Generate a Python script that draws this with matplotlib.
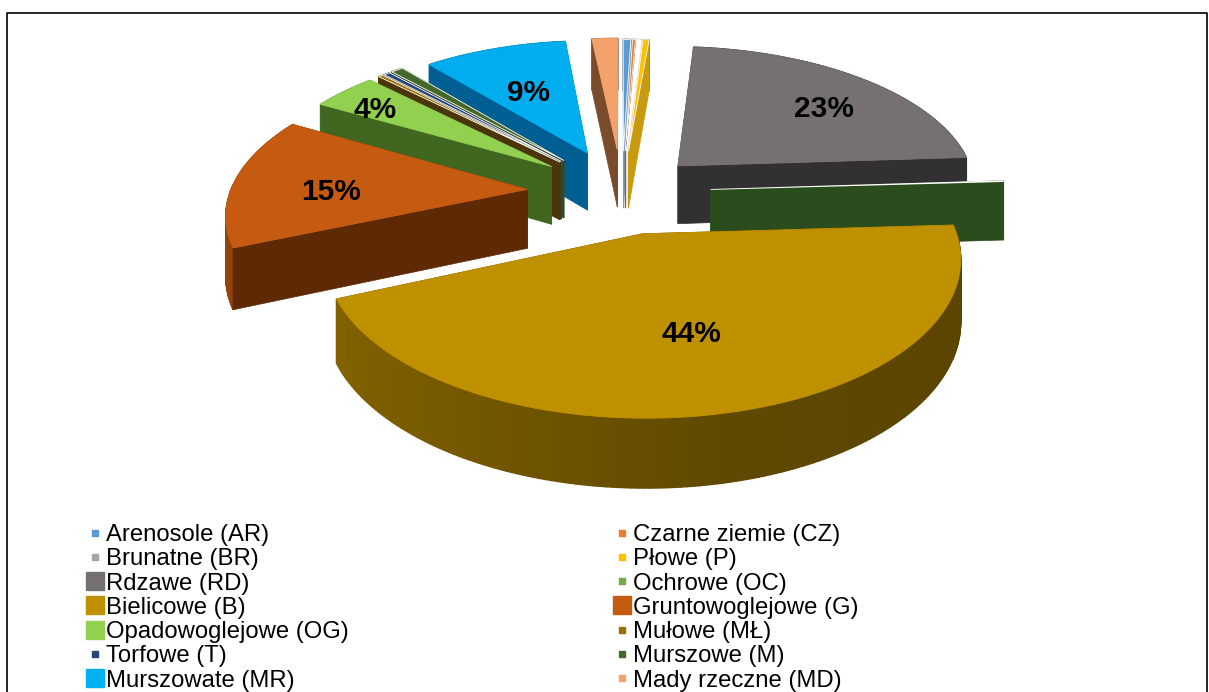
import numpy as np
import matplotlib.pyplot as plt
from matplotlib.colors import to_rgb
from matplotlib.lines import Line2D

plt.rcParams['font.family'] = ['Liberation Sans', 'DejaVu Sans']

# Dane
nazwy = ['Arenosole (AR)', 'Czarne ziemie (CZ)', 'Brunatne (BR)', 'Płowe (P)', 'Rdzawe (RD)', 'Ochrowe (OC)',
         'Bielicowe (B)', 'Gruntowoglejowe (G)', 'Opadowoglejowe (OG)', 'Mułowe (MŁ)', 'Torfowe (T)',
         'Murszowe (M)', 'Murszowate (MR)', 'Mady rzeczne (MD)']
udzial = [0.5, 0.2, 0.3, 0.4, 22.6, 0.1, 44.5, 14.6, 4.2, 0.3, 0.4, 0.8, 9.4, 1.7]

kolory = ['#5B9BD5', '#ED7D31', '#FFFFFF', '#FFC000', '#767171', '#70AD47', '#BF9000', '#C55A11',
          '#92D050', '#9C7000', '#264478', '#43682B', '#00ADEF', '#F4A26B']
kolory_leg = ['#5B9BD5', '#ED7D31', '#A5A5A5', '#FFC000', '#767171', '#70AD47', '#BF9000', '#C55A11',
              '#92D050', '#9C7000', '#264478', '#43682B', '#00B0F0', '#F4A26B']
sciany = ['#7A9CC0', '#8A5A3A', '#E8E8E8', '#C89A10', '#333033', '#2B4D1E', '#5A4000', '#5E2A05',
          '#41661F', '#4A3608', '#3A3A60', '#2F4A20', '#005F92', '#7A4C2C']
duze_znaczniki = [4, 6, 7, 8, 12]

# Rzut perspektywiczny
CX, CY = 622, 192
A, B, K = 297, 142, 0.143
GLEB, GLEB_K = 59, 0.12
wybuch = [0.3, 0.3, 0.3, 0.3, 0.27, 0.3, 0.29, 0.32, 0.305, 0.305, 0.305, 0.305, 0.31, 0.31]
promien = [0.97, 0.97, 0.97, 0.97, 1.01, 1, 1.015, 1, 1, 1, 1, 1, 0.97, 0.97]
lab_r = {4: 0.71, 6: 0.61, 7: 0.66, 8: 0.8, 12: 0.54}
lab_da = {4: 5, 6: 0, 7: -5, 8: -3, 12: -2}


def rzut(u, v):
    w = 1 + K * np.asarray(v)
    return CX + A * np.asarray(u) / w, CY - B * np.asarray(v) / w


def gleb(v):
    return GLEB / (1 + GLEB_K * np.asarray(v))


def cien(u):
    return np.interp(u, [-1.3, -0.5, 0.3, 1.3], [0.75, 0.62, 0.5, 0.47])


fig = plt.figure(figsize=(12.09, 6.92), dpi=100)
ax = fig.add_axes([0, 0, 1, 1])
ax.set_xlim(0, 1209)
ax.set_ylim(692, 0)
ax.axis('off')

# Ramka
ax.plot([7, 7, 1207, 1207], [692, 13, 13, 692], color='black', lw=1.2)

# Wycinki
gr = np.cumsum([0] + udzial) / sum(udzial) * 2 * np.pi
srodki = (gr[:-1] + gr[1:]) / 2
for i in np.argsort(-np.cos(srodki)):
    t = np.linspace(gr[i], gr[i + 1], max(3, int((gr[i + 1] - gr[i]) * 60)))
    u0, v0 = wybuch[i] * np.sin(srodki[i]), wybuch[i] * np.cos(srodki[i])
    u, v = u0 + promien[i] * np.sin(t), v0 + promien[i] * np.cos(t)
    x, y = rzut(u, v)
    x0, y0 = rzut(u0, v0)
    g, g0 = gleb(v), gleb(v0)
    baza = np.array(to_rgb(kolory[i]))


    def rysuj_obwod():
        for j in range(len(t) - 1):
            ax.fill([x[j], x[j + 1], x[j + 1], x[j]], [y[j], y[j + 1], y[j + 1] + g[j + 1], y[j] + g[j]],
                    color=tuple(baza * cien(u[j])), lw=1)


    def rysuj_promienie():
        for k in [0, -1]:
            ax.fill([x0, x[k], x[k], x0], [y0, y[k], y[k] + g[k], y0 + g0], color=sciany[i], lw=0.5)


    if np.cos(srodki[i]) > -0.2:
        rysuj_obwod()
        rysuj_promienie()
    else:
        rysuj_promienie()
        rysuj_obwod()
    # gorna powierzchnia
    ec = 'white' if udzial[i] < 1 else kolory[i]
    ax.fill(np.r_[x0, x], np.r_[y0, y], facecolor=kolory[i], edgecolor=ec, lw=0.6)

# Etykiety procentowe
for i in lab_r:
    kat = srodki[i] + np.radians(lab_da[i])
    ux = wybuch[i] * np.sin(srodki[i]) + lab_r[i] * np.sin(kat)
    vx = wybuch[i] * np.cos(srodki[i]) + lab_r[i] * np.cos(kat)
    lx, ly = rzut(ux, vx)
    ax.text(lx, ly, f'{udzial[i]:.0f}%', ha='center', va='center', fontsize=21.5, fontweight='bold', color='black')

# Legenda
uchwyty = []
for i, nazwa in enumerate(nazwy):
    ms = 12.5 if i in duze_znaczniki else 5
    uchwyty.append(Line2D([], [], linestyle='none', marker='s', markersize=ms, color=kolory_leg[i], label=nazwa))
uklad = uchwyty[::2] + uchwyty[1::2]
ax.legend(handles=uklad, ncol=2, loc='upper left', bbox_to_anchor=(87 / 1209, 1 - 524 / 692), frameon=False,
          fontsize=17.2, labelspacing=0.095, handlelength=0.7, handletextpad=0.1, columnspacing=11.1,
          borderpad=0, borderaxespad=0)

plt.savefig('out.png', dpi=100)
